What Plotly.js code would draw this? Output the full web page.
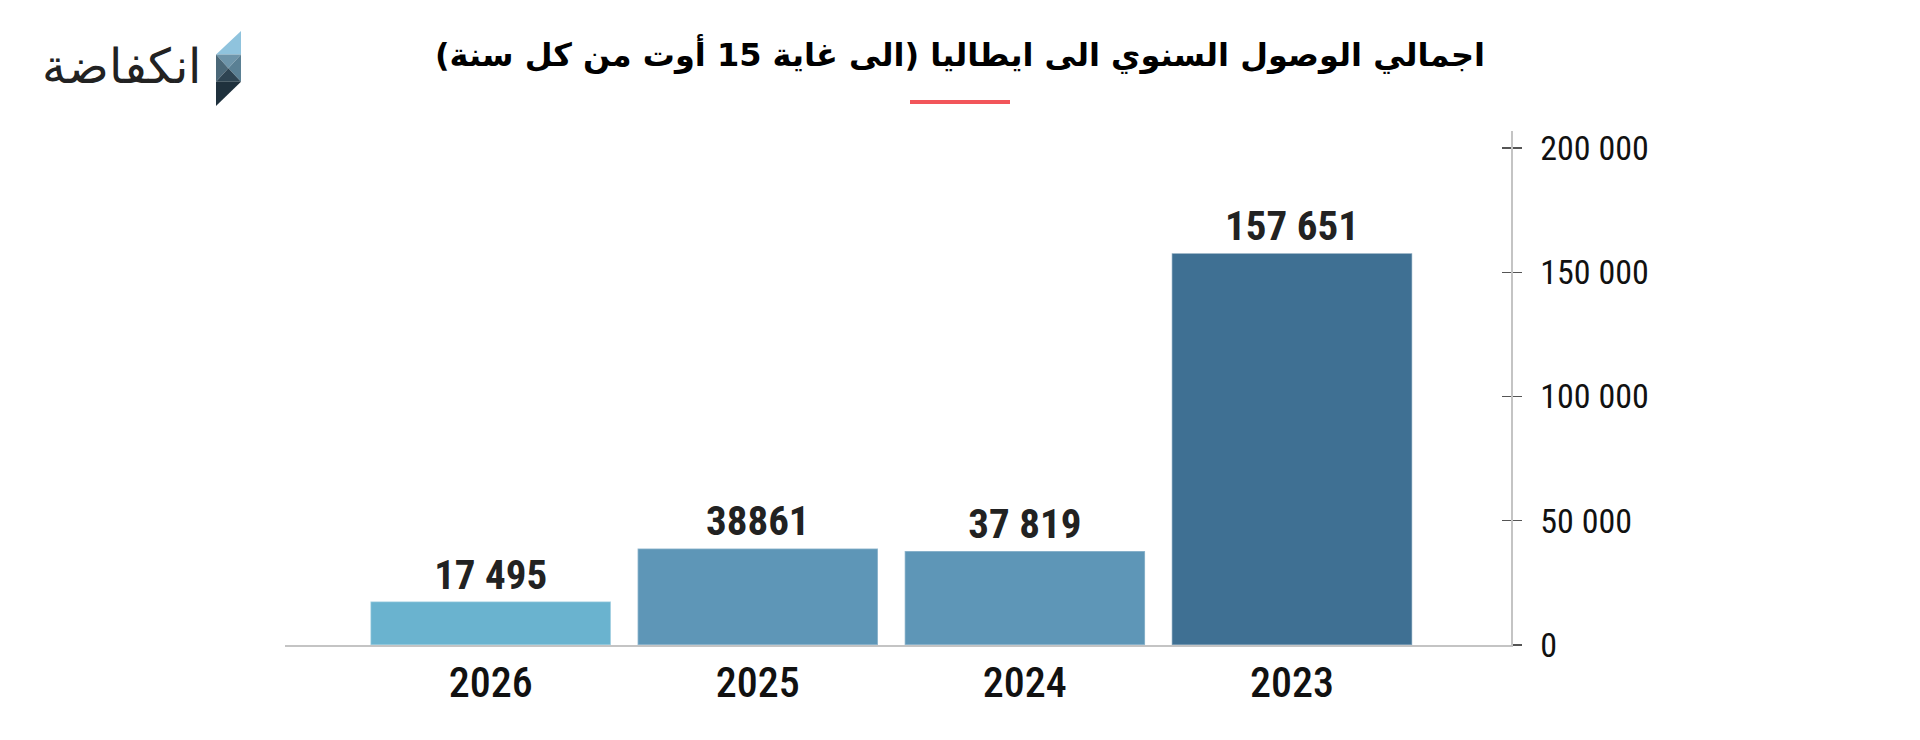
<!DOCTYPE html>
<html>
<head>
<meta charset="utf-8">
<script src="https://cdn.plot.ly/plotly-3.0.1.min.js"></script>
<style>html,body{margin:0;padding:0;background:#fff;}#chart{width:1920px;height:740px;}</style>
</head>
<body>
<div id="chart"></div>
<script>
const years = ['2026', '2025', '2024', '2023'];
const arrivals = [17495, 38861, 37819, 157651];
const barLabels = ['17 495', '38861', '37 819', '157 651'];
const barColors = ['#6ab3cf', '#5e96b7', '#5e96b7', '#3f7093'];
const yTickVals = [0, 50000, 100000, 150000, 200000];
const yTickText = ['0', '50 000', '100 000', '150 000', '200 000'];
const titleText = 'اجمالي الوصول السنوي الى ايطاليا (الى غاية 15 أوت من كل سنة)';
const logoText = 'انكفاضة';

const condensed = '"Roboto Condensed", "Liberation Sans Narrow", "DejaVu Sans Condensed", sans-serif';

const iconSvg = '<svg xmlns="http://www.w3.org/2000/svg" viewBox="0 0 75 226" width="75" height="226">' +
  '<polygon points="75,0 75,71 0,71" fill="#8fc3dd"/>' +
  '<polygon points="0,71 75,71 37,112" fill="#6e95aa"/>' +
  '<polygon points="0,71 37,112 0,153" fill="#4b6878"/>' +
  '<polygon points="75,71 37,112 75,153" fill="#5a8094"/>' +
  '<polygon points="0,153 37,112 75,153" fill="#2e4452"/>' +
  '<polygon points="0,153 75,153 0,226" fill="#1f313d"/>' +
  '</svg>';
const iconUri = 'data:image/svg+xml;base64,' + btoa(iconSvg);

const traces = [
  {
    type: 'bar',
    x: years,
    y: arrivals,
    text: barLabels,
    textposition: 'outside',
    cliponaxis: false,
    textfont: {family: condensed, size: 41, color: '#222', weight: 'bold'},
    marker: {color: barColors, line: {color: 'rgba(255,255,255,0.35)', width: 1.5}},
    width: 0.9,
    hoverinfo: 'skip'
  },
  {
    type: 'scatter',
    mode: 'none',
    x: years,
    y: arrivals,
    yaxis: 'y2',
    hoverinfo: 'skip',
    showlegend: false
  }
];

const layout = {
  width: 1920,
  height: 740,
  margin: {l: 285, r: 409, t: 131, b: 95},
  paper_bgcolor: '#fff',
  plot_bgcolor: '#fff',
  showlegend: false,
  title: {
    text: titleText,
    x: 0.5, xref: 'container', xanchor: 'center',
    y: 1 - 55 / 740, yref: 'container', yanchor: 'middle',
    font: {family: '"DejaVu Sans", sans-serif', size: 32, color: '#000', weight: 'bold'}
  },
  xaxis: {
    type: 'category',
    categoryorder: 'array',
    categoryarray: years,
    range: [-0.77, 3.82],
    showline: true, linecolor: '#c4c4c4', linewidth: 1.5,
    showgrid: false, zeroline: false,
    ticks: '',
    ticklabelstandoff: 0,
    tickfont: {family: condensed, size: 42, color: '#111', weight: 500}
  },
  yaxis: {
    side: 'right',
    range: [0, 206800],
    tickvals: yTickVals,
    ticktext: yTickText,
    showline: true, linecolor: '#c4c4c4', linewidth: 1.5,
    showgrid: false, zeroline: false,
    ticks: 'outside', ticklen: 9, tickwidth: 1.2, tickcolor: '#555',
    ticklabelstandoff: 12,
    tickfont: {family: condensed, size: 34, color: '#111'}
  },
  yaxis2: {
    overlaying: 'y',
    side: 'right',
    range: [0, 206800],
    tickvals: [50000, 100000, 150000, 200000],
    showticklabels: false,
    showline: false,
    showgrid: false, zeroline: false,
    ticks: 'inside', ticklen: 9, tickwidth: 1.2, tickcolor: '#555'
  },
  shapes: [
    {type: 'line', xref: 'paper', yref: 'paper',
     x0: (910 - 285) / 1226, x1: (1010 - 285) / 1226,
     y0: (645 - 102) / 514, y1: (645 - 102) / 514,
     line: {color: '#f2555a', width: 4}}
  ],
  annotations: [
    {text: logoText, xref: 'paper', yref: 'paper',
     x: (121 - 285) / 1226, y: (645 - 66) / 514,
     xanchor: 'center', yanchor: 'middle', showarrow: false,
     font: {family: '"DejaVu Sans", sans-serif', size: 48, color: '#222', weight: 200}}
  ],
  images: [
    {source: iconUri, xref: 'paper', yref: 'paper',
     x: (216 - 285) / 1226, y: (645 - 31) / 514,
     sizex: 25 / 1226, sizey: 75 / 514,
     xanchor: 'left', yanchor: 'top', sizing: 'stretch', layer: 'above'}
  ]
};

Plotly.newPlot('chart', traces, layout, {displayModeBar: false, staticPlot: true});
</script>
</body>
</html>
